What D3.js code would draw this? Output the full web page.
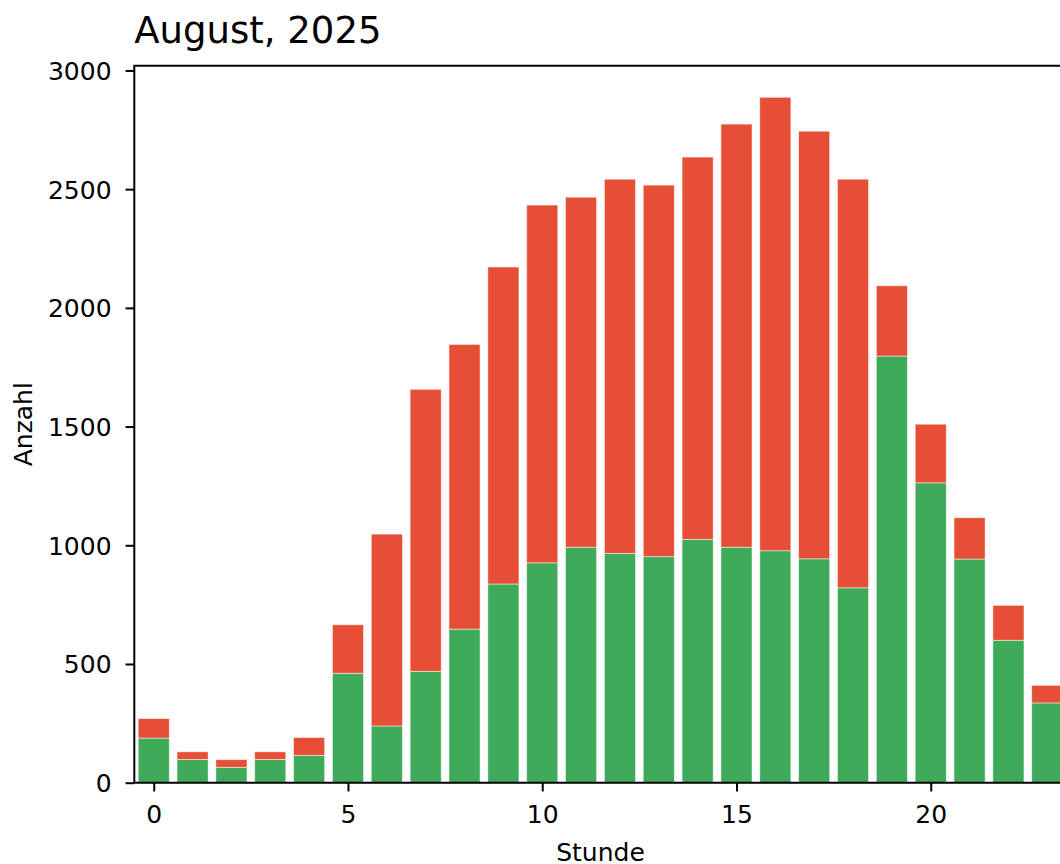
<!DOCTYPE html>
<html>

<head>
  <meta charset='utf-8'>
  <title>August, 2025</title>
  <style>
    body {
      margin: 0;
      background: #fff;
    }

    svg text {
      font-family: "DejaVu Sans", sans-serif;
      fill: #000;
    }
  </style>
</head>

<body>
  <div id="chart"></div>
</body>
<script src="https://d3js.org/d3.v7.min.js"></script>
<script>
  // data
  var stunden = d3.range(0, 24);
  var gruen = [188, 98, 65, 98, 115, 461, 239, 469, 647, 837, 926, 992, 966, 952, 1025, 992, 977, 943, 821, 1797, 1263, 942, 600, 336];
  var rot = [82, 32, 32, 32, 75, 204, 808, 1188, 1199, 1335, 1507, 1474, 1576, 1565, 1610, 1782, 1910, 1801, 1721, 296, 247, 174, 147, 74];
  var yTicks = [0, 500, 1000, 1500, 2000, 2500, 3000];
  var xTicks = [0, 5, 10, 15, 20];

  const GREEN = "#3EAA5A";
  const RED = "#E64F36";
  const Y_MAX = 3020;
  const TICK = 8.75;

  var W = 1060, H = 864;
  // the axes box; right edge is past the window like in the reference
  var axLeft = 134.3, axRight = 1066.7, axTop = 65.7, axBottom = 782.7;

  var svg = d3.select("#chart")
    .append("svg")
    .attr("width", W)
    .attr("height", H);

  var x = d3.scaleLinear().domain([-0.5, 23.5]).range([axLeft, axRight]);
  var y = d3.scaleLinear().domain([0, Y_MAX]).range([axBottom, axTop]);
  var barW = x(0.8) - x(0);

  var rows = stunden.map(function (h, i) {
    return { stunde: h, gruen: gruen[i], rot: rot[i] };
  });
  var series = d3.stack().keys(["gruen", "rot"])(rows);
  var colors = { gruen: GREEN, rot: RED };

  // bars
  svg.append("g").selectAll("g")
    .data(series)
    .enter()
    .append("g")
    .attr("fill", function (s) { return colors[s.key]; })
    .selectAll("rect")
    .data(function (s) { return s; })
    .enter()
    .append("rect")
    .attr("x", function (d) { return x(d.data.stunde) - barW / 2; })
    .attr("y", function (d) { return y(d[1]); })
    .attr("width", barW)
    .attr("height", function (d) { return y(d[0]) - y(d[1]); })
    .attr("stroke", "#fff")
    .attr("stroke-opacity", 0.6)
    .attr("stroke-width", 0.8);

  // y axis
  var yAxis = svg.append("g")
    .attr("transform", "translate(" + axLeft + ",0)")
    .call(d3.axisLeft(y).tickValues(yTicks).tickFormat(d3.format("d")).tickSize(TICK).tickPadding(14));
  yAxis.select(".domain").remove();
  yAxis.selectAll("line").attr("stroke", "#000").attr("stroke-width", 2);
  yAxis.selectAll("text").attr("font-size", 25).attr("dy", "0.36em");

  // x axis
  var xAxis = svg.append("g")
    .attr("transform", "translate(0," + axBottom + ")")
    .call(d3.axisBottom(x).tickValues(xTicks).tickFormat(d3.format("d")).tickSize(TICK).tickPadding(12));
  xAxis.select(".domain").remove();
  xAxis.selectAll("line").attr("stroke", "#000").attr("stroke-width", 2);
  xAxis.selectAll("text").attr("font-size", 25).attr("dy", "0.79em");

  // spines
  svg.append("path")
    .attr("d", "M" + axLeft + "," + axBottom + "V" + axTop + "H" + axRight + "V" + axBottom + "Z")
    .attr("fill", "none")
    .attr("stroke", "#000")
    .attr("stroke-width", 2);

  // labels
  svg.append("text")
    .text("August, 2025")
    .attr("x", axLeft)
    .attr("y", 42.5)
    .attr("font-size", 37);
  svg.append("text")
    .text("Stunde")
    .attr("x", (axLeft + axRight) / 2)
    .attr("y", 861)
    .attr("text-anchor", "middle")
    .attr("font-size", 25);
  svg.append("text")
    .text("Anzahl")
    .attr("text-anchor", "middle")
    .attr("font-size", 25)
    .attr("transform", "translate(32," + (axTop + axBottom) / 2 + ") rotate(-90)");
</script>

</html>
